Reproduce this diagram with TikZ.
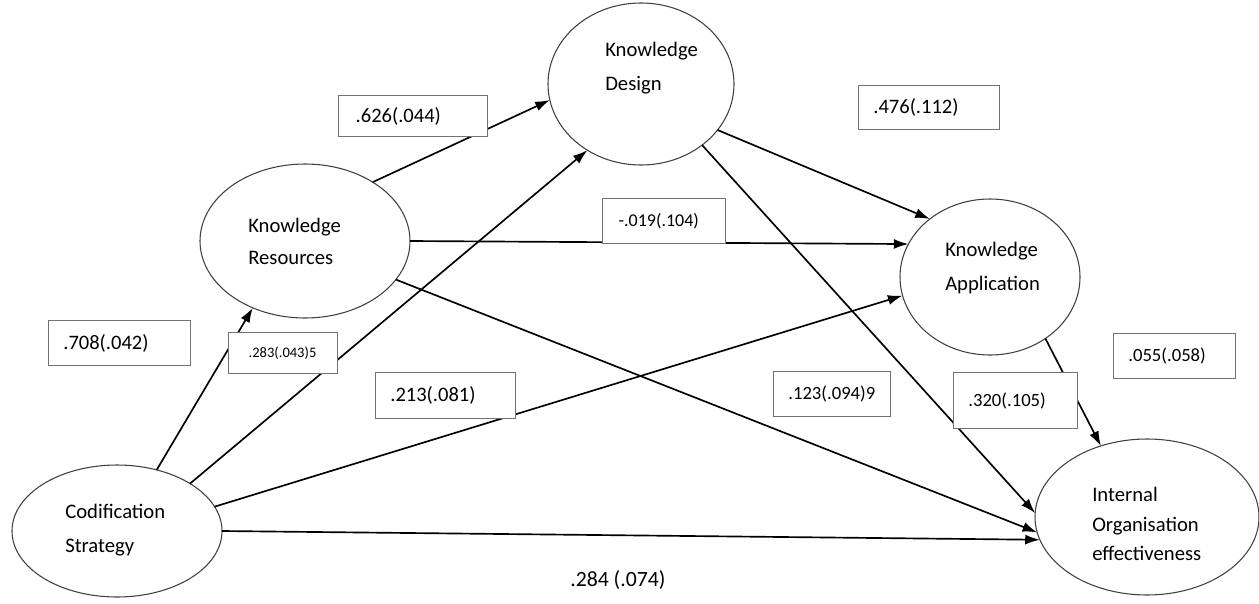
\documentclass[tikz,border=0pt]{standalone}
\usepackage{fontspec}
\setmainfont{Carlito}
\usepackage{tikz}
\usetikzlibrary{shapes.geometric,arrows.meta}

\tikzset{
  latent/.style={ellipse, draw=black!75, line width=0.8pt, inner sep=0pt, outer sep=0pt},
  effect/.style={-{Latex[length=11pt,width=7.5pt]}, line width=1.25pt},
  coef/.style={draw=black!55, fill=white, line width=1pt, inner xsep=11pt, inner ysep=0pt,
    align=left, anchor=north west, font=\fontsize{14}{17}\selectfont},
  vname/.style={anchor=west, align=left, inner sep=0pt, font=\fontsize{15.5}{25}\selectfont}
}

\begin{document}
\begin{tikzpicture}[x=0.75pt,y=0.75pt,yscale=-1,xscale=1]
\useasboundingbox (0,0) rectangle (1259,603);

% Ellipses
\node [latent, minimum width=157.5pt, minimum height=99pt] (cod) at (117,531) {};
\node [latent, minimum width=157.5pt, minimum height=115.5pt] (res) at (305,241) {};
\node [latent, minimum width=139.5pt, minimum height=121.5pt] (des) at (641,84) {};
\node [latent, minimum width=135pt, minimum height=117pt] (app) at (990,277) {};
\node [latent, minimum width=168pt, minimum height=117pt] (ioe) at (1147,517) {};

% Straight Lines
\draw [effect] (cod.57) -- (res.232);
\draw [effect] (cod.33) -- (des.231);
\draw [effect] (cod.14) -- (app.192);
\draw [effect] (cod.0) -- (ioe.192);
\draw [effect] (res.41) -- (des.190);
\draw [effect] (res.0) -- (app.158);
\draw [effect] (res.-23) -- (ioe.188);
\draw [effect] (des.-31) -- (app.136);
\draw [effect] (des.-45) -- (ioe.178);
\draw [effect] (app.-48) -- (ioe.123);

% Text Nodes
\node [vname] (tcod) at (65,530) {Codification\\Strategy};
\node [vname, font=\fontsize{15.5}{24}\selectfont] (tres) at (248,241) {Knowledge\\Resources};
\node [vname] (tdes) at (605,68) {Knowledge\\Design};
\node [vname] (tapp) at (945,268) {Knowledge\\Application};
\node [vname, font=\fontsize{15.5}{22}\selectfont] (tioe) at (1092,524) {Internal\\Organisation\\effectiveness};

% Coefficient boxes
\node [coef, text width=86pt, minimum height=30.75pt, inner xsep=12.75pt, font=\fontsize{15.4}{18}\selectfont] (c626) at (338,95) {.626(.044)};
\node [coef, text width=83.75pt, minimum height=33pt, font=\fontsize{15.4}{18}\selectfont] (c476) at (858,85) {.476(.112)};
\node [coef, text width=84.5pt, minimum height=33.75pt, font=\fontsize{15.4}{18}\selectfont] (c708) at (48,320) {.708(.042)};
\node [coef, text width=51.75pt, minimum height=30.75pt, inner xsep=15pt, font=\fontsize{10.9}{13}\selectfont] (c283) at (228,332) {.283(.043)5};
\node [coef, text width=83pt, minimum height=34.5pt, font=\fontsize{15.4}{18}\selectfont] (c213) at (375,372) {.213(.081)};
\node [coef, text width=68.25pt, minimum height=33.75pt, inner xsep=12pt, font=\fontsize{13.5}{16}\selectfont] (c019) at (602,198) {-.019(.104)};
\node [coef, text width=65.75pt, minimum height=33.75pt] (c123) at (773,371) {.123(.094)9};
\node [coef, text width=71pt, minimum height=42pt] (c320) at (953,372) {.320(.105)};
\node [coef, text width=69.5pt, minimum height=33.75pt] (c055) at (1113,333) {.055(.058)};
\node [anchor=west, inner sep=0pt, font=\fontsize{16.3}{19}\selectfont] (c284) at (570,580) {.284 (.074)};

\end{tikzpicture}
\end{document}
